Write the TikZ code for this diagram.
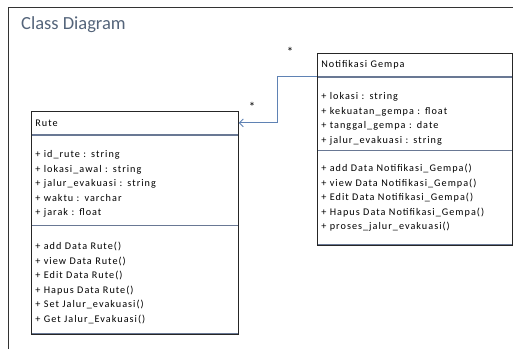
\documentclass[tikz,border=0pt]{standalone}
\usepackage{fontspec}
\setmainfont{Carlito}
\newfontfamily\boxfont[LetterSpace=10]{Carlito}
\usetikzlibrary{arrows.meta,positioning}
\definecolor{titlegray}{RGB}{84,100,122}
\definecolor{linkblue}{RGB}{95,130,180}
\definecolor{sepgray}{RGB}{105,120,148}

\begin{document}
\begin{tikzpicture}[
  x=1pt,y=-1pt,
  every node/.style={font=\boxfont\fontsize{10.2}{14.5}\selectfont},
  part/.style={draw=sepgray, line width=0.7pt, anchor=north west, inner xsep=4pt, inner ysep=0pt, text width=#1, align=left},
  pushdown/.style={execute at begin node={\rule{0pt}{#1}}},
  mult/.style={font=\fontsize{13}{14}\selectfont, inner sep=0pt}
]
\useasboundingbox (0,0) rectangle (513,349);
\draw[black!80, line width=0.9pt] (8,349) -- (8,7) -- (513,7);
\node[anchor=base west, inner sep=0pt, font=\rmfamily\fontsize{18.5}{20}\selectfont, text=titlegray] (title) at (21,29) {Class Diagram};

% Rute
\node[part=199pt, minimum height=23pt] (rutehead) at (31,111) {Rute};
\node[part=199pt, minimum height=90pt, pushdown=15.5pt] (ruteattr) at (rutehead.south west) {+ id\_rute : string\\+ lokasi\_awal : string\\+ jalur\_evakuasi : string\\+ waktu : varchar\\+ jarak : float};
\node[part=199pt, minimum height=108pt, pushdown=13.5pt] (rutemeth) at (ruteattr.south west) {+ add Data Rute()\\+ view Data Rute()\\+ Edit Data Rute()\\+ Hapus Data Rute()\\+ Set Jalur\_evakuasi()\\+ Get Jalur\_Evakuasi()};
\draw[black!85, line width=0.9pt] (rutehead.north west) rectangle (rutemeth.south east);

% Notifikasi Gempa
\node[part=187pt, minimum height=23pt] (notifhead) at (317,53) {Notifikasi Gempa};
\node[part=187pt, minimum height=73pt, pushdown=17.5pt] (notifattr) at (notifhead.south west) {+ lokasi : string\\+ kekuatan\_gempa : float\\+ tanggal\_gempa : date\\+ jalur\_evakuasi : string};
\node[part=187pt, minimum height=94pt] (notifmeth) at (notifattr.south west) {+ add Data Notifikasi\_Gempa()\\+ view Data Notifikasi\_Gempa()\\+ Edit Data Notifikasi\_Gempa()\\+ Hapus Data Notifikasi\_Gempa()\\+ proses\_jalur\_evakuasi()};
\draw[black!85, line width=0.9pt] (notifhead.north west) rectangle (notifmeth.south east);

% association
\draw[linkblue, line width=0.9pt, -{Straight Barb[length=4pt,width=8pt]}] (notifhead.south west) -- ++(-40,0) |- (rutehead.east);
\node[mult] (multnotif) at (290,52) {*};
\node[mult] (multrute) at (252,107) {*};
\end{tikzpicture}
\end{document}
